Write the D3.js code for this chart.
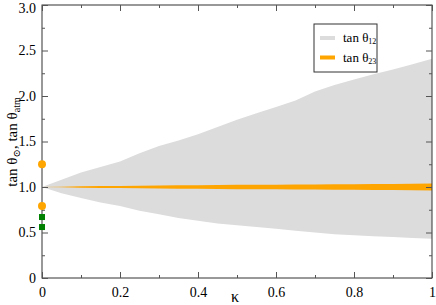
<!DOCTYPE html>
<html>
<head>
<meta charset="utf-8">
<script src="https://cdn.jsdelivr.net/npm/d3@7"></script>
<style>
body { margin: 0; background: #fff; }
svg text { font-family: "Liberation Serif", "Times New Roman", Times, "DejaVu Serif", serif; }
</style>
</head>
<body>
<div class="top"></div>
<script>
// band data
const kappa   = [0, 0.05, 0.1, 0.15, 0.2, 0.25, 0.3, 0.35, 0.4, 0.45, 0.5, 0.55, 0.6, 0.65, 0.7, 0.75, 0.8, 0.85, 0.9, 0.95, 1.0];
const upper12 = [1.0, 1.08, 1.16, 1.22, 1.28, 1.37, 1.45, 1.51, 1.58, 1.66, 1.74, 1.81, 1.88, 1.95, 2.05, 2.12, 2.18, 2.24, 2.29, 2.35, 2.41];
const lower12 = [1.0, 0.93, 0.88, 0.83, 0.79, 0.74, 0.70, 0.66, 0.63, 0.60, 0.58, 0.56, 0.54, 0.52, 0.50, 0.48, 0.47, 0.46, 0.45, 0.44, 0.43];
const upper23 = [1.0, 1.004, 1.008, 1.010, 1.012, 1.014, 1.016, 1.018, 1.020, 1.022, 1.024, 1.025, 1.026, 1.027, 1.028, 1.030, 1.031, 1.032, 1.034, 1.036, 1.038];
const lower23 = [1.0, 0.996, 0.992, 0.990, 0.988, 0.986, 0.984, 0.982, 0.980, 0.978, 0.976, 0.975, 0.974, 0.973, 0.972, 0.970, 0.969, 0.968, 0.966, 0.964, 0.962];

// experimental points at kappa = 0
const circlePts = [1.25, 0.79];
const squarePts = [0.67, 0.56];

const xTicks = [0, 0.2, 0.4, 0.6, 0.8, 1];
const xTickLabels = ['0', '0.2', '0.4', '0.6', '0.8', '1'];
const yTicks = [0, 0.5, 1, 1.5, 2, 2.5, 3];
const yTickLabels = ['0', '0.5', '1.0', '1.5', '2.0', '2.5', '3.0'];
const xMinor = [0.1, 0.3, 0.5, 0.7, 0.9];
const yMinor = [0.25, 0.75, 1.25, 1.75, 2.25, 2.75];

const FONT = '"Liberation Serif", "Times New Roman", Times, "DejaVu Serif", serif';

const W = 436, H = 305;
const m = {l: 42, r: 4, t: 5, b: 27};

const x = d3.scaleLinear().domain([0, 1]).range([m.l, W - m.r]);
const y = d3.scaleLinear().domain([0, 3]).range([H - m.b, m.t]);

const svg = d3.select('.top').append('svg')
	.attr('width', W).attr('height', H)
	.style('font-family', FONT);

const band = d3.area()
	.x((d, i) => x(kappa[i]))
	.y0(d => y(d[0]))
	.y1(d => y(d[1]));

svg.append('path')
	.datum(kappa.map((k, i) => [lower12[i], upper12[i]]))
	.attr('d', band)
	.attr('fill', '#dcdcdc');

svg.append('path')
	.datum(kappa.map((k, i) => [lower23[i], upper23[i]]))
	.attr('d', band)
	.attr('fill', '#ffa500');

// frame
svg.append('rect')
	.attr('x', x(0)).attr('y', y(3))
	.attr('width', x(1) - x(0)).attr('height', y(0) - y(3))
	.attr('fill', 'none')
	.attr('stroke', '#333')
	.attr('stroke-width', 1);

const axisStyle = g => {
	g.attr('font-family', null);
	g.select('.domain').remove();
	g.selectAll('line').attr('stroke', '#555');
	g.selectAll('text').style('font-size', '14px').attr('fill', '#000')
		.style('font-family', FONT);
};

svg.append('g')
	.attr('transform', `translate(0,${y(0)})`)
	.call(d3.axisBottom(x).tickValues(xTicks).tickSize(-6).tickPadding(9)
		.tickFormat((d, i) => xTickLabels[i]))
	.call(axisStyle);

svg.append('g')
	.attr('transform', `translate(0,${y(0)})`)
	.call(d3.axisBottom(x).tickValues(xMinor).tickSize(-3).tickFormat(''))
	.call(axisStyle);

svg.append('g')
	.attr('transform', `translate(0,${y(3)})`)
	.call(d3.axisTop(x).tickValues(xTicks).tickSize(-6).tickFormat(''))
	.call(axisStyle);

svg.append('g')
	.attr('transform', `translate(0,${y(3)})`)
	.call(d3.axisTop(x).tickValues(xMinor).tickSize(-3).tickFormat(''))
	.call(axisStyle);

svg.append('g')
	.attr('transform', `translate(${x(0)},0)`)
	.call(d3.axisLeft(y).tickValues(yTicks).tickSize(-6).tickPadding(6)
		.tickFormat((d, i) => yTickLabels[i]))
	.call(axisStyle)
	.call(g => g.selectAll('text').attr('dy', d => d === 3 ? '0.55em' : '0.32em'));

svg.append('g')
	.attr('transform', `translate(${x(0)},0)`)
	.call(d3.axisLeft(y).tickValues(yMinor).tickSize(-3).tickFormat(''))
	.call(axisStyle);

svg.append('g')
	.attr('transform', `translate(${x(1)},0)`)
	.call(d3.axisRight(y).tickValues(yTicks).tickSize(-6).tickFormat(''))
	.call(axisStyle);

svg.append('g')
	.attr('transform', `translate(${x(1)},0)`)
	.call(d3.axisRight(y).tickValues(yMinor).tickSize(-3).tickFormat(''))
	.call(axisStyle);

// points
svg.selectAll('.circ').data(circlePts)
	.join('circle').attr('class', 'circ')
		.attr('cx', x(0)).attr('cy', d => y(d))
		.attr('r', 4)
		.attr('fill', '#ffa500');

svg.selectAll('.sq').data(squarePts)
	.join('rect').attr('class', 'sq')
		.attr('x', x(0) - 3).attr('y', d => y(d) - 3)
		.attr('width', 6).attr('height', 6)
		.attr('fill', '#008000');

// axis titles
svg.append('text')
	.attr('x', x(0.5) - 2).attr('y', 302)
	.attr('text-anchor', 'middle')
	.style('font-size', '16px')
	.text('κ');

const yl = svg.append('text')
	.attr('transform', 'translate(17,142) rotate(-90)')
	.attr('text-anchor', 'middle')
	.style('font-size', '15px');
yl.append('tspan').text('tan θ');
yl.append('tspan').attr('baseline-shift', '-30%').style('font-size', '10px').text('⊙');
yl.append('tspan').text(', tan θ');
yl.append('tspan').attr('baseline-shift', '-30%').style('font-size', '10px').text('atm');

// legend
const leg = svg.append('g').attr('transform', 'translate(314,24)');
leg.append('rect')
	.attr('width', 63).attr('height', 48)
	.attr('fill', '#fff')
	.attr('stroke', '#333');

const legItems = [
	{label: '12', color: '#dcdcdc'},
	{label: '23', color: '#ffa500'}
];
leg.selectAll('.item').data(legItems)
	.join('g').attr('class', 'item')
		.attr('transform', (d, i) => `translate(0,${14 + i * 19.5})`)
		.call(g => {
			g.append('line')
				.attr('x1', 6).attr('x2', 21)
				.attr('stroke', d => d.color)
				.attr('stroke-width', 4);
			const t = g.append('text')
				.attr('x', 29).attr('y', 4)
				.style('font-size', '13px');
			t.append('tspan').text('tan θ');
			t.append('tspan').attr('baseline-shift', '-30%').style('font-size', '8px').text(d => d.label);
		});
</script>
</body>
</html>
